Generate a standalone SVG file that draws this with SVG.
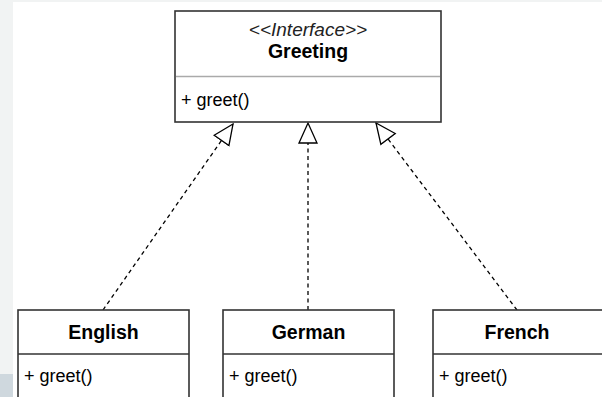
<svg xmlns="http://www.w3.org/2000/svg" width="602" height="397" viewBox="0 0 602 397">
<defs>
<style>
.box{fill:#fff;stroke:#333;stroke-width:1.6}
.sep{stroke:#333;stroke-width:1.4}
.t{font-family:"Liberation Sans",Arial,sans-serif;fill:#000}
.b{font-weight:bold;font-size:19.5px;text-anchor:middle}
.m{font-size:18px}
.i{font-style:italic;font-size:19px;text-anchor:middle;fill:#222}
.c{fill:none;stroke:#000;stroke-width:1.3;stroke-dasharray:4 3.5}
</style>
<marker id="tri" markerUnits="userSpaceOnUse" markerWidth="24" markerHeight="22" refX="21" refY="10" orient="auto">
<path d="M1,1 L21,10 L1,19 Z" fill="#fff" stroke="#000" stroke-width="1.3" stroke-dasharray="none"/>
</marker>
</defs>
<rect x="0" y="0" width="602" height="397" fill="#fff"/>
<rect x="0" y="0" width="602" height="2" fill="#f1f3f3"/>
<rect x="0" y="0" width="13" height="397" fill="#f1f3f3"/>
<rect x="0" y="374" width="13" height="23" fill="#cfd8de"/>
<g id="connectors">
<line class="c" x1="103" y1="310" x2="233" y2="124" marker-end="url(#tri)"/>
<line class="c" x1="308" y1="310" x2="308" y2="123" marker-end="url(#tri)"/>
<line class="c" x1="517" y1="310" x2="376" y2="123" marker-end="url(#tri)"/>
</g>
<g id="greeting">
<rect class="box" x="175" y="11" width="266" height="111"/>
<line x1="176" y1="76.5" x2="440" y2="76.5" stroke="#aaa" stroke-width="1.5"/>
<text class="t i" x="308" y="36">&lt;&lt;Interface&gt;&gt;</text>
<text class="t b" x="308" y="58">Greeting</text>
<text class="t m" x="181" y="106">+ greet()</text>
</g>
<g id="english">
<rect class="box" x="18" y="310" width="171" height="100"/>
<line class="sep" x1="18" y1="354" x2="189" y2="354"/>
<text class="t b" x="103.5" y="339">English</text>
<text class="t m" x="24" y="382">+ greet()</text>
</g>
<g id="german">
<rect class="box" x="223" y="310" width="171" height="100"/>
<line class="sep" x1="223" y1="354" x2="394" y2="354"/>
<text class="t b" x="308.5" y="339">German</text>
<text class="t m" x="229" y="382">+ greet()</text>
</g>
<g id="french">
<rect class="box" x="433" y="310" width="180" height="100"/>
<line class="sep" x1="433" y1="354" x2="602" y2="354"/>
<text class="t b" x="517" y="339">French</text>
<text class="t m" x="439" y="382">+ greet()</text>
</g>
</svg>
